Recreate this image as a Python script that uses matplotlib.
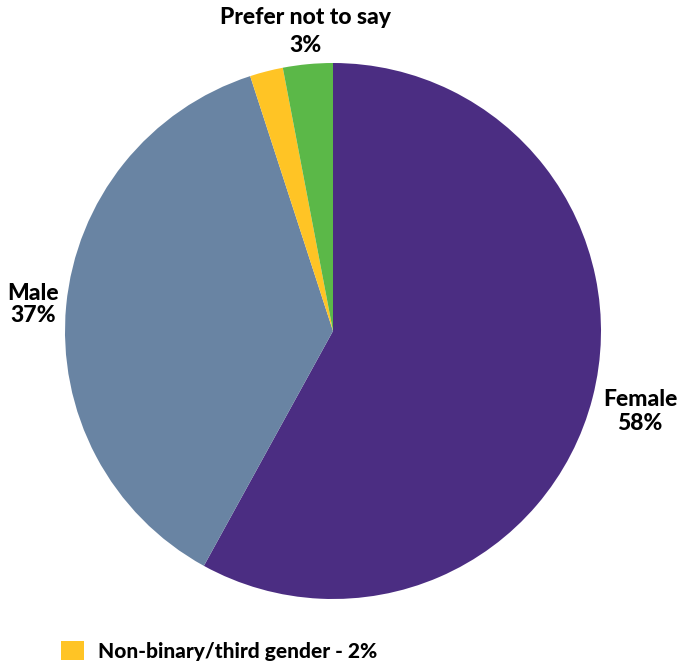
import matplotlib.pyplot as plt

labels = ['Female', 'Male', 'Non-binary/third gender', 'Prefer not to say']
shares = [58, 37, 2, 3]
colors = ['#4B2D82', '#6984A3', '#FFC425', '#5BB848']

W, H = 680, 661
fig = plt.figure(figsize=(W / 100, H / 100), dpi=100, facecolor='white')
ax = fig.add_axes([0, 0, 1, 1])

wedges, _ = ax.pie(shares, colors=colors, startangle=90, counterclock=False,
                   center=(333, H - 331), radius=268, frame=True,
                   wedgeprops=dict(linewidth=0))
ax.set_xlim(0, W)
ax.set_ylim(0, H)
ax.axis('off')

font = dict(family='Lato', fontweight='black', fontsize=16.5, color='black',
            ha='center', va='center')
ax.text(305, H - 18, 'Prefer not to say', **font)
ax.text(305, H - 45, f'{shares[3]}%', **font)
ax.text(33, H - 293, 'Male', **font)
ax.text(33, H - 316, f'{shares[1]}%', **font)
ax.text(640, H - 400, 'Female', **font)
ax.text(640, H - 423, f'{shares[0]}%', **font)

leg = ax.legend([wedges[2]], [f'{labels[2]} - {shares[2]}%'],
                loc='center left', bbox_to_anchor=(42 / W, 1 - 651 / H),
                frameon=False, handlelength=1.1, handleheight=1.0,
                handletextpad=0.7,
                prop=dict(family='Lato', weight='black', size=15))

plt.savefig('out.png', dpi=100, facecolor='white')
